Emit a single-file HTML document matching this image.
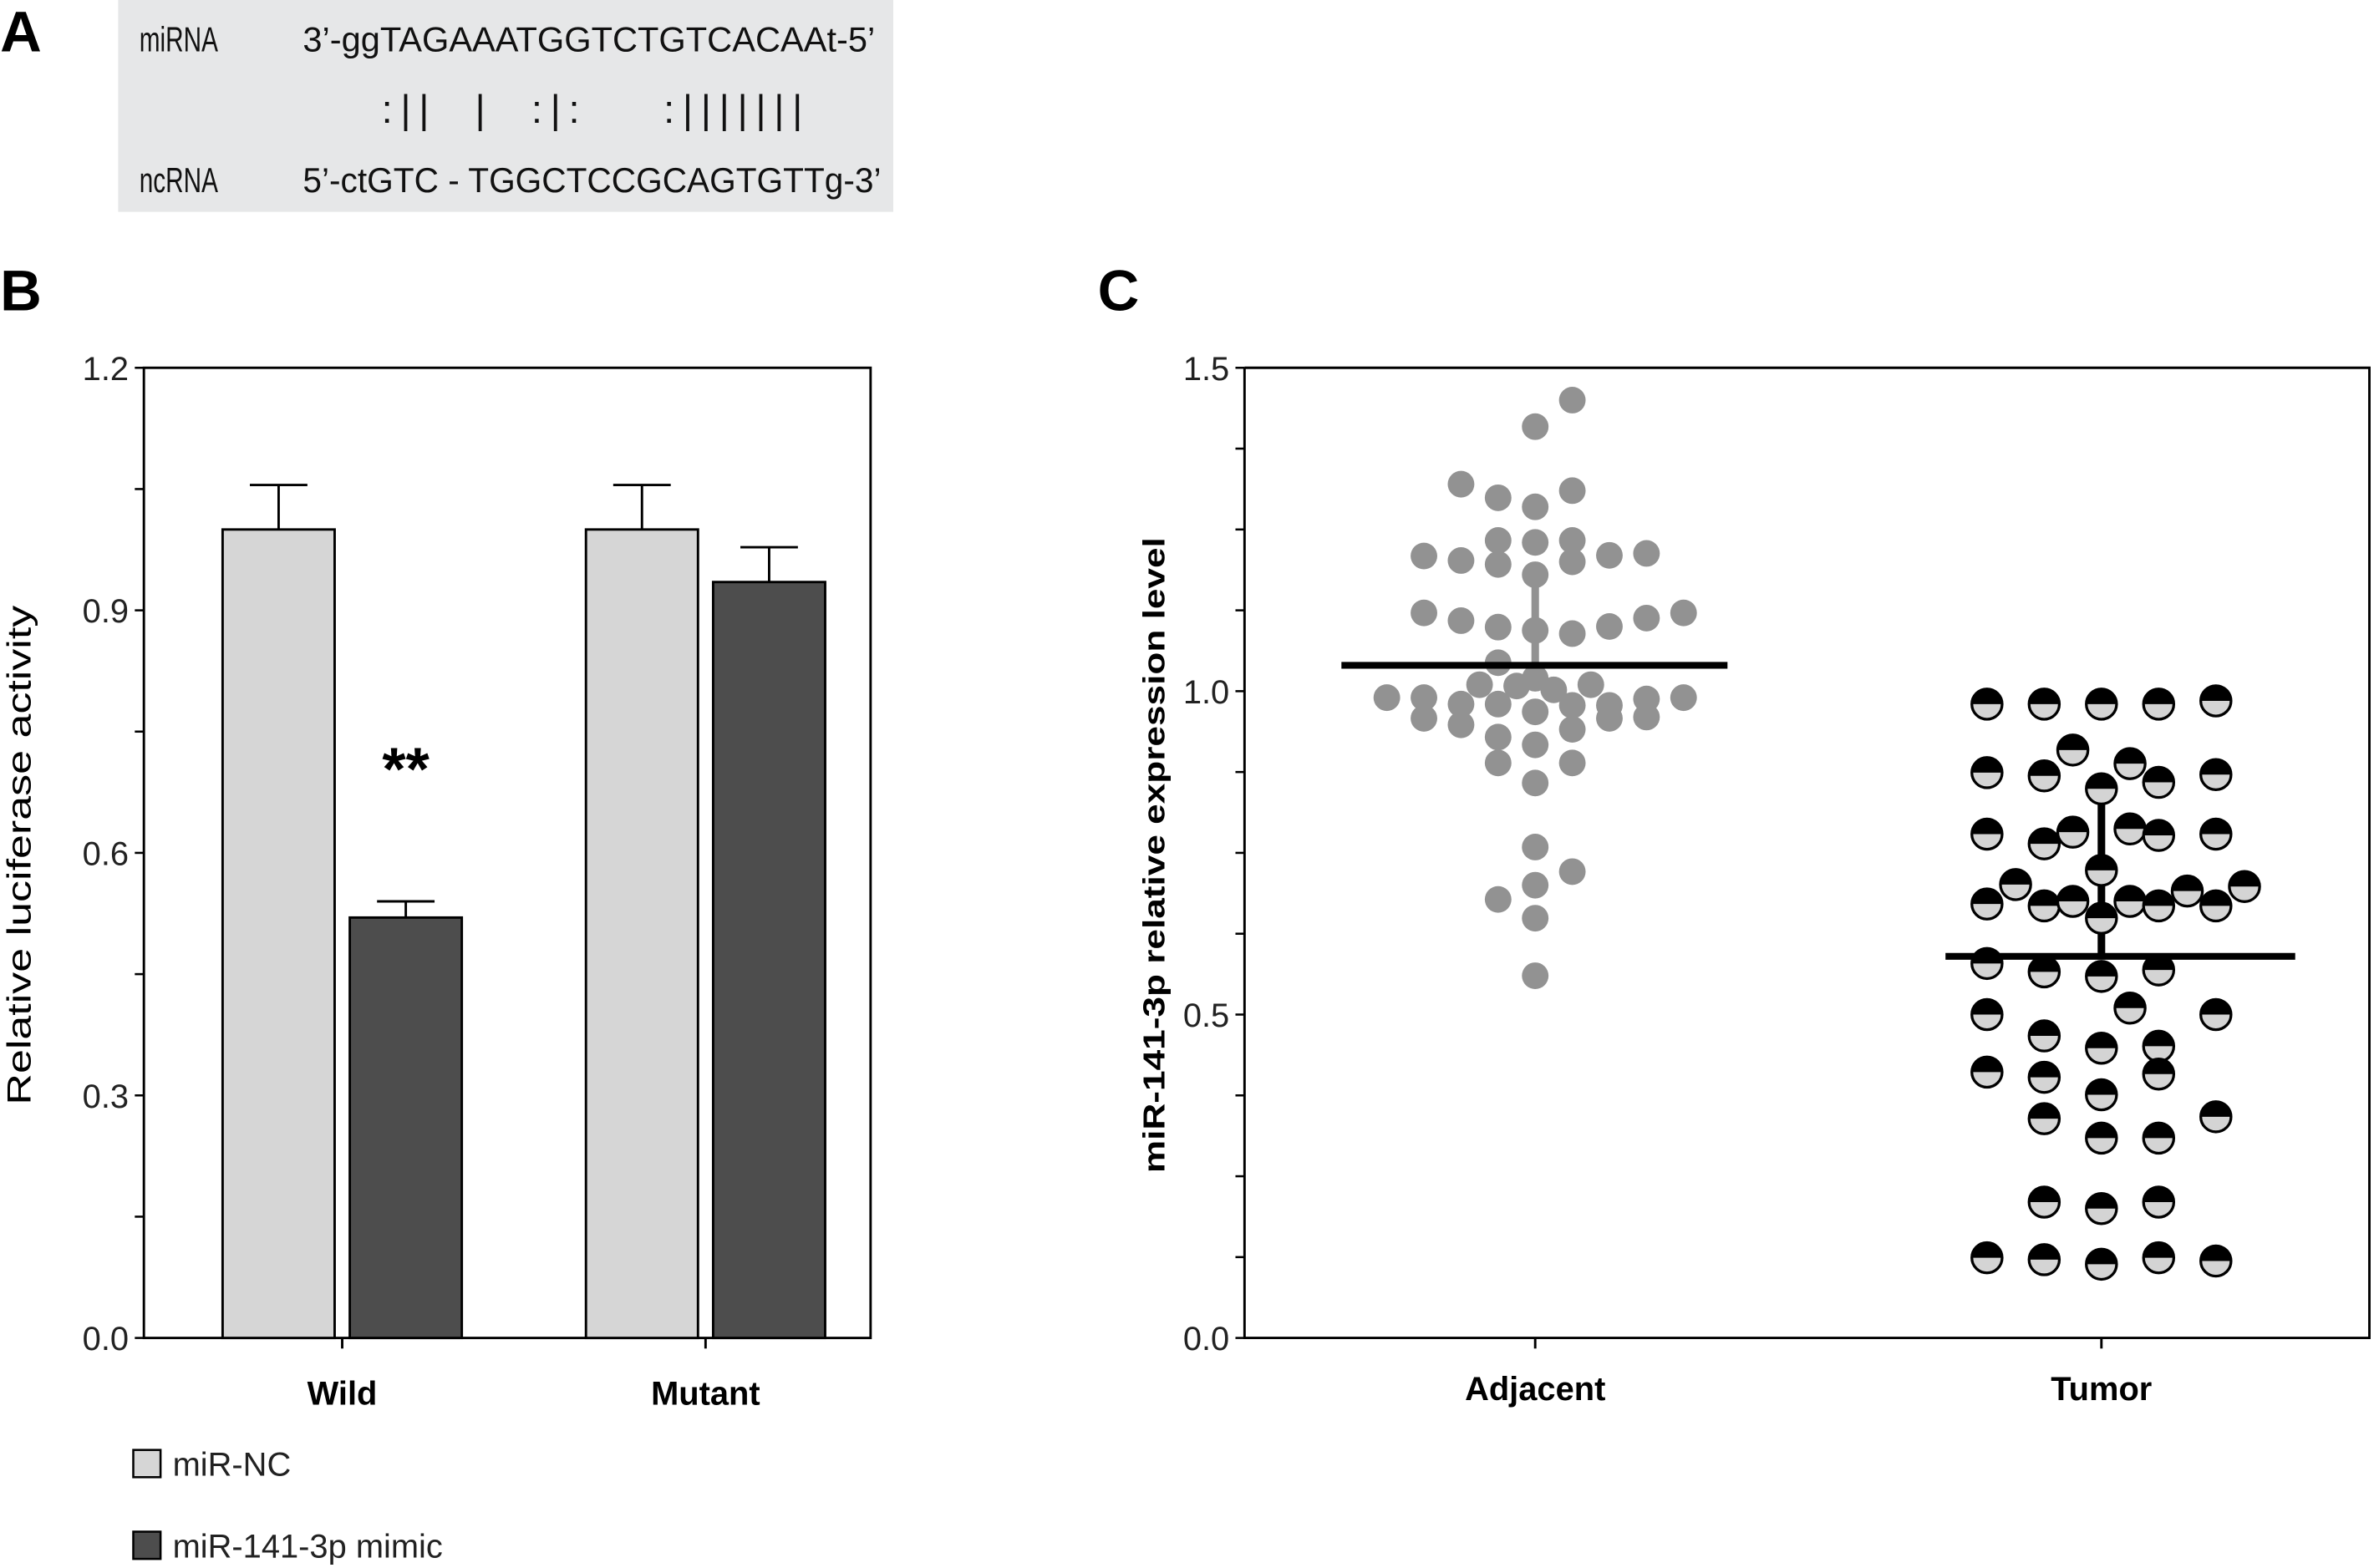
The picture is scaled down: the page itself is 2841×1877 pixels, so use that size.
<!DOCTYPE html>
<html><head><meta charset="utf-8"><style>
html,body{margin:0;padding:0;background:#fff;}
svg{display:block;}
text{font-family:"Liberation Sans",sans-serif;}
</style></head><body>
<svg id="fig" width="2841" height="1877" viewBox="0 0 1568 1036" xmlns="http://www.w3.org/2000/svg">
<text x="0" y="34" font-size="38" font-weight="bold">A</text>
<rect x="78" y="0" width="512" height="140" fill="#e6e7e8"/>
<g font-size="23" fill="#111">
<text x="92" y="34" textLength="52" lengthAdjust="spacingAndGlyphs">miRNA</text>
<text x="200" y="34" textLength="378" lengthAdjust="spacingAndGlyphs">3’-ggTAGAAATGGTCTGTCACAAt-5’</text>
<text x="252" y="81" font-size="26" textLength="278" lengthAdjust="spacing" xml:space="preserve">:||  |  :|:    :|||||||</text>
<text x="92" y="127" textLength="52" lengthAdjust="spacingAndGlyphs">ncRNA</text>
<text x="200" y="127" textLength="382" lengthAdjust="spacingAndGlyphs">5’-ctGTC - TGGCTCCGCAGTGTTg-3’</text>
</g>
<text x="0" y="205" font-size="38" font-weight="bold">B</text>
<text x="725" y="205" font-size="38" font-weight="bold">C</text>
<g id="gB"></g>
<g id="gC"></g>
</svg>
<script>
// Panel B data
const barCategories = ["Wild","Mutant"];
const ncValues = [1.0, 1.0];
const ncErrors = [0.055, 0.055];
const mimicValues = [0.52, 0.935];
const mimicErrors = [0.02, 0.043];
const barTicks = [0.0, 0.3, 0.6, 0.9, 1.2];
const barTickLabels = ["0.0","0.3","0.6","0.9","1.2"];
// Panel C data
const dotCategories = ["Adjacent","Tumor"];
const adjacentValues = [1.45,1.409,1.32,1.299,1.285,1.31,1.233,1.23,1.233,1.209,1.202,1.196,1.2,1.21,1.213,1.18,1.121,1.109,1.099,1.094,1.089,1.1,1.113,1.121,1.044,1.01,1.008,1.02,1.002,1.01,0.99,0.99,0.98,0.98,0.968,0.978,0.978,0.988,0.99,0.958,0.948,0.958,0.96,0.929,0.917,0.941,0.889,0.889,0.858,0.759,0.721,0.7,0.678,0.649,0.56];
const adjacentColumns = [1,0,-2,-1,0,1,-1,0,1,-3,-2,-1,1,2,3,0,-3,-2,-1,0,1,2,3,4,-1,-1.5,-0.5,0,0.5,1.5,-4,-3,-2,-1,0,1,2,3,4,-3,-2,2,3,-1,0,1,-1,1,0,0,1,0,-1,0,0];
const tumorValues = [0.98,0.98,0.98,0.98,0.985,0.909,0.888,0.874,0.869,0.849,0.859,0.871,0.779,0.764,0.782,0.787,0.777,0.779,0.723,0.701,0.691,0.698,0.671,0.668,0.675,0.675,0.668,0.668,0.649,0.579,0.566,0.559,0.569,0.51,0.5,0.5,0.467,0.448,0.451,0.411,0.403,0.408,0.376,0.339,0.342,0.309,0.309,0.21,0.2,0.21,0.124,0.121,0.114,0.124,0.119];
const tumorColumns = [-2,-1,0,1,2,-0.5,0.5,-2,-1,0,1,2,-2,-1,-0.5,0.5,1,2,0,-1.5,1.5,2.5,-2,-1,-0.5,0.5,1,2,0,-2,-1,0,1,0.5,-2,2,-1,0,1,-2,-1,1,0,-1,2,0,1,-1,0,1,-2,-1,0,1,2];
const adjacentMean = 1.04, adjacentErrLo = 1.0, adjacentErrHi = 1.17;
const tumorMean = 0.59, tumorErrLo = 0.65, tumorErrHi = 0.86;
const dotTicks = [0.0,0.5,1.0,1.5];
const dotTickLabels = ["0.0","0.5","1.0","1.5"];

const NS="http://www.w3.org/2000/svg";
function mk(parent, tag, attrs, txt){const e=document.createElementNS(NS,tag);for(const k in attrs)e.setAttribute(k,attrs[k]);if(txt!==undefined)e.textContent=txt;parent.appendChild(e);return e;}

// ---- Panel B ----
const gB=document.getElementById('gB');
const bL=95,bR=575,bT=243,bB=884,bMax=1.2;
const yB=v=>bB-(v/bMax)*(bB-bT);
const groupX=[226,466];
let fr=mk(gB,'rect',{x:bL,y:bT,width:bR-bL,height:bB-bT,fill:'none',stroke:'#000','stroke-width':1.6});


for(let v=0; v<=1.2001; v+=0.15){
  const t=mk(gB,'line',{x1:bL-6,x2:bL,y1:yB(v),y2:yB(v),stroke:'#000','stroke-width':1.4});
  
  
}
barTicks.forEach((v,i)=>{
  const t=mk(gB,'text',{x:bL-10,y:yB(v)+8,'font-size':22,'text-anchor':'end',fill:'#222'},barTickLabels[i]);
  
  
});
function drawBar(x,w,v,err,fill,name){
  const e=mk(gB,'line',{x1:x+w/2,x2:x+w/2,y1:yB(v),y2:yB(v+err),stroke:'#000','stroke-width':1.6});
  
  
  const c=mk(gB,'line',{x1:x+w/2-19,x2:x+w/2+19,y1:yB(v+err),y2:yB(v+err),stroke:'#000','stroke-width':1.6});
  
  
  const r=mk(gB,'rect',{x:x,y:yB(v),width:w,height:bB-yB(v),fill:fill,stroke:'#000','stroke-width':1.6});
  
  
}
barCategories.forEach((c,i)=>{
  const gx=groupX[i];
  drawBar(gx-79,74,ncValues[i],ncErrors[i],'#d6d6d6','bar-nc-'+c.toLowerCase());
  drawBar(gx+5,74,mimicValues[i],mimicErrors[i],'#4d4d4d','bar-mimic-'+c.toLowerCase());
  const t=mk(gB,'line',{x1:gx,x2:gx,y1:bB,y2:bB+7,stroke:'#000','stroke-width':1.6});
  
  
  const l=mk(gB,'text',{x:gx,y:928,'font-size':22,'font-weight':'bold','text-anchor':'middle'},c);
  
  
});
let st=mk(gB,'text',{x:268,y:522,'font-size':40,'font-weight':'bold','text-anchor':'middle'},'**');


let yt=mk(gB,'text',{x:0,y:0,'font-size':22,'text-anchor':'middle',transform:'translate(20,565) rotate(-90)',textLength:330,lengthAdjust:'spacingAndGlyphs'},'Relative luciferase activity');


[['miR-NC','#d6d6d6',958],['miR-141-3p mimic','#4d4d4d',1012]].forEach(([lab,col,y])=>{
  const s=mk(gB,'rect',{x:88,y:y,width:18,height:18,fill:col,stroke:'#000','stroke-width':1.4});
  
  
  const t=mk(gB,'text',{x:114,y:y+17,'font-size':22,fill:'#222'},lab);
  
  
});

// ---- Panel C ----
const gC=document.getElementById('gC');
const cL=822,cR=1565,cT=243,cB=884,cMax=1.5;
const yC=v=>cB-(v/cMax)*(cB-cT);
const catX=[1014,1388];
let fc=mk(gC,'polyline',{points:`${cL},${cT} ${cL},${cB} ${cR},${cB} ${cR},${cT} ${cL},${cT}`,fill:'none',stroke:'#000','stroke-width':1.6});


for(let v=0; v<=1.5001; v+=0.125){
  const t=mk(gC,'line',{x1:cL-6,x2:cL,y1:yC(v),y2:yC(v),stroke:'#000','stroke-width':1.4});
  
  
}
dotTicks.forEach((v,i)=>{
  const t=mk(gC,'text',{x:cL-10,y:yC(v)+8,'font-size':22,'text-anchor':'end',fill:'#222'},dotTickLabels[i]);
  
  
});
dotCategories.forEach((c,i)=>{
  const t=mk(gC,'line',{x1:catX[i],x2:catX[i],y1:cB,y2:cB+7,stroke:'#000','stroke-width':1.6});
  
  
  const l=mk(gC,'text',{x:catX[i],y:925,'font-size':22,'font-weight':'bold','text-anchor':'middle'},c);
  
  
});
let yt2=mk(gC,'text',{x:0,y:0,'font-size':20,'font-weight':'bold','text-anchor':'middle',transform:'translate(769,565) rotate(-90)',textLength:420,lengthAdjust:'spacingAndGlyphs'},'miR-141-3p relative expression level');


let ae=mk(gC,'line',{x1:catX[0],x2:catX[0],y1:yC(adjacentErrLo),y2:yC(adjacentErrHi),stroke:'#929292','stroke-width':5});


adjacentValues.forEach((v,i)=>{
  const d=mk(gC,'circle',{cx:catX[0]+adjacentColumns[i]*24.5,cy:yC(v),r:8.8,fill:'#929292'});
  
  
});
let am=mk(gC,'line',{x1:886,x2:1141,y1:yC(adjacentMean),y2:yC(adjacentMean),stroke:'#000','stroke-width':4.5});


let te=mk(gC,'line',{x1:catX[1],x2:catX[1],y1:yC(tumorMean),y2:yC(tumorErrHi),stroke:'#000','stroke-width':5});


tumorValues.forEach((v,i)=>{
  const cx=catX[1]+tumorColumns[i]*37.8, cy=yC(v), r=10;
  const g=mk(gC,'g',{});
  
  
  mk(g,'circle',{cx:cx,cy:cy,r:r,fill:'#d4d4d4'});
  mk(g,'path',{d:`M${cx-r},${cy} A${r},${r} 0 0 1 ${cx+r},${cy} Z`,fill:'#000'});
  mk(g,'circle',{cx:cx,cy:cy,r:r,fill:'none',stroke:'#000','stroke-width':1.8});
});
let tm=mk(gC,'line',{x1:1285,x2:1516,y1:yC(tumorMean),y2:yC(tumorMean),stroke:'#000','stroke-width':4.5});


</script>
</body></html>
